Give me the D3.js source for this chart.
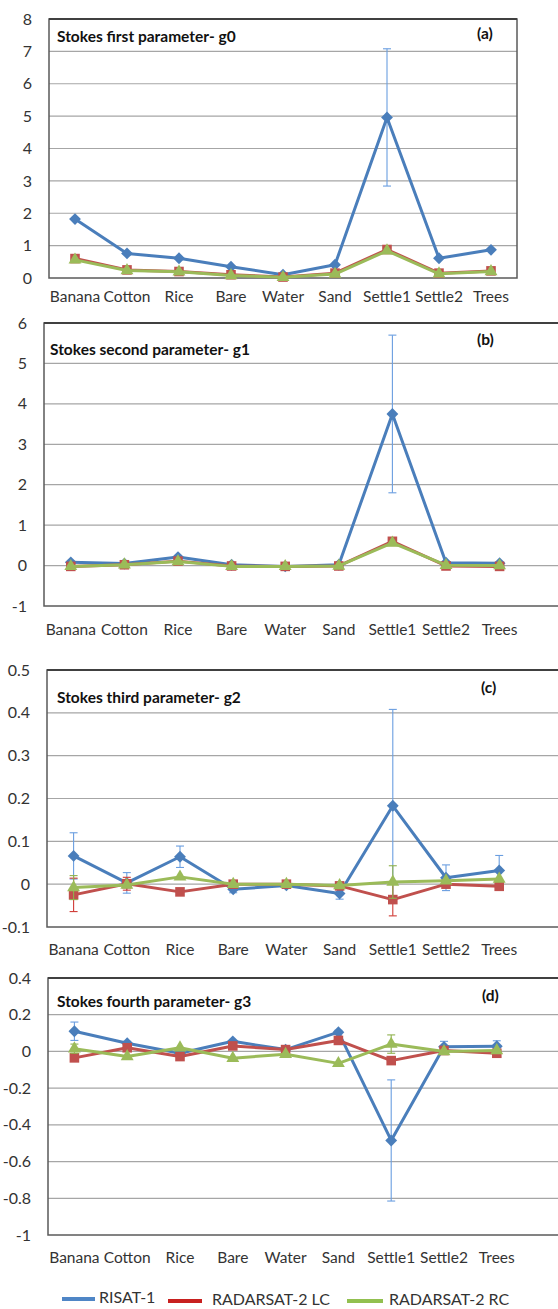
<!DOCTYPE html>
<html>
<head>
<meta charset="utf-8">
<script src="https://cdn.jsdelivr.net/npm/d3@7"></script>
<style>
  html, body { margin: 0; padding: 0; background: #fff; }
  svg { display: block; font-family: Lato, "Open Sans", sans-serif; }
</style>
</head>
<body>
<svg id="chart" width="558" height="1309"></svg>
<script>
// land-cover classes on the x axis
const categories = ['Banana', 'Cotton', 'Rice', 'Bare', 'Water', 'Sand', 'Settle1', 'Settle2', 'Trees'];
const seriesNames = ['RISAT-1', 'RADARSAT-2 LC', 'RADARSAT-2 RC'];

// g0 - first Stokes parameter
const g0Risat    = [1.82, 0.76, 0.61, 0.35, 0.10, 0.41, 4.96, 0.61, 0.87];
const g0Lc       = [0.60, 0.25, 0.20, 0.10, 0.03, 0.15, 0.88, 0.15, 0.22];
const g0Rc       = [0.56, 0.23, 0.19, 0.08, 0.02, 0.12, 0.84, 0.13, 0.20];
const g0RisatErr = [0, 0, 0, 0, 0, 0, 2.12, 0, 0];
const g0Ticks    = [0, 1, 2, 3, 4, 5, 6, 7, 8];

// g1 - second Stokes parameter
const g1Risat    = [0.08, 0.05, 0.21, 0.02, -0.02, 0.02, 3.75, 0.07, 0.06];
const g1Lc       = [-0.02, 0.02, 0.11, -0.01, -0.02, -0.01, 0.60, -0.01, -0.02];
const g1Rc       = [-0.02, 0.02, 0.10, -0.02, -0.02, -0.01, 0.56, 0.01, 0.00];
const g1RisatErr = [0, 0, 0, 0, 0, 0, 1.95, 0, 0];
const g1Ticks    = [-1, 0, 1, 2, 3, 4, 5, 6];

// g2 - third Stokes parameter
const g2Risat    = [0.066, 0.003, 0.064, -0.012, -0.003, -0.022, 0.183, 0.015, 0.032];
const g2Lc       = [-0.025, 0.001, -0.018, 0.000, 0.000, -0.004, -0.036, 0.000, -0.005];
const g2Rc       = [-0.008, -0.002, 0.017, 0.000, 0.000, -0.003, 0.005, 0.008, 0.012];
const g2RisatErr = [0.054, 0.024, 0.025, 0.008, 0.003, 0.013, 0.225, 0.030, 0.035];
const g2LcErr    = [0.039, 0.015, 0, 0, 0, 0, 0.038, 0, 0];
const g2RcErr    = [0.028, 0, 0, 0, 0, 0, 0.038, 0, 0];
const g2Ticks    = [-0.1, 0, 0.1, 0.2, 0.3, 0.4, 0.5];

// g3 - fourth Stokes parameter
const g3Risat    = [0.110, 0.045, -0.010, 0.055, 0.010, 0.105, -0.485, 0.025, 0.028];
const g3Lc       = [-0.035, 0.020, -0.028, 0.030, 0.010, 0.060, -0.050, 0.005, -0.010];
const g3Rc       = [0.015, -0.028, 0.020, -0.037, -0.015, -0.065, 0.040, 0.000, 0.005];
const g3RisatErr = [0.050, 0.010, 0, 0, 0, 0.010, 0.330, 0.030, 0.030];
const g3RcErr    = [0.025, 0, 0, 0, 0, 0, 0.050, 0, 0];
const g3Ticks    = [-1, -0.8, -0.6, -0.4, -0.2, 0, 0.2, 0.4];

const COLORS    = ['#4a7ebb', '#c0504d', '#9bbb59'];
const ERR_COLOR = ['#6a9ee0', '#d03a35', '#8fb14e'];
const LEGEND_COLORS = ['#4f86c6', '#c8201f', '#92c050'];

const panels = [
  { title: 'Stokes first parameter- g0', tag: '(a)', top: 19, bottom: 278, left: 49, step: 52, right: 517,
    ticks: g0Ticks, series: [g0Risat, g0Lc, g0Rc], errs: [g0RisatErr, null, null],
    titleXY: [57, 42], tagXY: [477, 39], labelY: 302 },
  { title: 'Stokes second parameter- g1', tag: '(b)', top: 323, bottom: 606, left: 44, step: 53.6, right: 562,
    ticks: g1Ticks, series: [g1Risat, g1Lc, g1Rc], errs: [g1RisatErr, null, null],
    titleXY: [50, 355], tagXY: [477, 345], labelY: 635 },
  { title: 'Stokes third parameter- g2', tag: '(c)', top: 670, bottom: 927, left: 47, step: 53.2, right: 562,
    ticks: g2Ticks, series: [g2Risat, g2Lc, g2Rc], errs: [g2RisatErr, g2LcErr, g2RcErr],
    titleXY: [57, 703], tagXY: [481, 693], labelY: 955 },
  { title: 'Stokes fourth parameter- g3', tag: '(d)', top: 978, bottom: 1235, left: 48, step: 52.8, right: 562,
    ticks: g3Ticks, series: [g3Risat, g3Lc, g3Rc], errs: [g3RisatErr, null, g3RcErr],
    titleXY: [57, 1007], tagXY: [482, 1001], labelY: 1263 },
];

const svg = d3.select('#chart');
const fmt = d => String(Math.round(d * 10) / 10);

const symbols = [
  d3.symbol().type(d3.symbolSquare).size(70),   // rotated -> diamond
  d3.symbol().type(d3.symbolSquare).size(92),
  d3.symbol().type(d3.symbolTriangle).size(72),
];

panels.forEach(p => {
  const g = svg.append('g');
  const x = d3.scalePoint().domain(categories)
    .range([p.left, p.left + categories.length * p.step]).padding(0.5);
  const y = d3.scaleLinear().domain(d3.extent(p.ticks)).range([p.bottom, p.top]);

  // gridlines
  g.append('g').selectAll('line')
    .data(p.ticks.slice(1, -1)).join('line')
    .attr('x1', p.left).attr('x2', p.right)
    .attr('y1', d => y(d)).attr('y2', d => y(d))
    .attr('stroke', '#a6a6a6').attr('stroke-width', 1.2);

  // plot frame
  g.append('rect')
    .attr('x', p.left).attr('y', p.top)
    .attr('width', p.right - p.left).attr('height', p.bottom - p.top)
    .attr('fill', 'none').attr('stroke', '#5a5a5a').attr('stroke-width', 1.5);
  g.append('line')
    .attr('x1', p.left).attr('x2', p.right).attr('y1', p.top).attr('y2', p.top)
    .attr('stroke', '#404040').attr('stroke-width', 2);

  // y axis labels
  const ax = g.append('g').attr('transform', `translate(${p.left},0)`)
    .call(d3.axisLeft(y).tickValues(p.ticks).tickFormat(fmt).tickSize(0).tickPadding(17));
  ax.select('.domain').remove();
  ax.selectAll('text').attr('font-size', 16).attr('fill', '#333')
    .attr('font-family', 'Lato, sans-serif');

  // x labels
  g.append('g').selectAll('text')
    .data(categories).join('text')
    .attr('x', d => x(d)).attr('y', p.labelY)
    .attr('text-anchor', 'middle').attr('font-size', 15.5).attr('fill', '#333')
    .text(d => d);

  // title + tag
  g.append('text').attr('x', p.titleXY[0]).attr('y', p.titleXY[1])
    .attr('font-size', 15.5).attr('font-weight', 'bold').attr('fill', '#111').text(p.title);
  g.append('text').attr('x', p.tagXY[0]).attr('y', p.tagXY[1])
    .attr('font-size', 15.5).attr('font-weight', 'bold').attr('fill', '#111').text(p.tag);

  const line = d3.line().x((d, i) => x(categories[i])).y(d => y(d));

  p.series.forEach((vals, si) => {
    const sg = g.append('g');
    const err = p.errs[si];
    if (err) {
      const eb = sg.append('g').attr('stroke', ERR_COLOR[si]).attr('stroke-width', 1.1);
      const items = vals.map((v, i) => ({ v, e: err[i], c: categories[i] })).filter(d => d.e > 0);
      eb.selectAll('line.v').data(items).join('line')
        .attr('x1', d => x(d.c)).attr('x2', d => x(d.c))
        .attr('y1', d => y(d.v - d.e)).attr('y2', d => y(d.v + d.e));
      eb.selectAll('line.t').data(items).join('line')
        .attr('x1', d => x(d.c) - 4).attr('x2', d => x(d.c) + 4)
        .attr('y1', d => y(d.v + d.e)).attr('y2', d => y(d.v + d.e));
      eb.selectAll('line.b').data(items).join('line')
        .attr('x1', d => x(d.c) - 4).attr('x2', d => x(d.c) + 4)
        .attr('y1', d => y(d.v - d.e)).attr('y2', d => y(d.v - d.e));
    }
    sg.append('path').datum(vals)
      .attr('d', line).attr('fill', 'none')
      .attr('stroke', COLORS[si]).attr('stroke-width', 3).attr('stroke-linejoin', 'round');
    sg.selectAll('path.m').data(vals).join('path')
      .attr('d', symbols[si])
      .attr('transform', (d, i) => `translate(${x(categories[i])},${y(d)})` + (si === 0 ? ' rotate(45)' : ''))
      .attr('fill', COLORS[si]);
  });
});

// legend
const legendX = [[62, 95, 99], [168, 202, 212], [347, 383, 389]];
const legendY = [1299, 1301, 1301];
const lg = svg.append('g');
seriesNames.forEach((name, i) => {
  lg.append('line')
    .attr('x1', legendX[i][0]).attr('x2', legendX[i][1])
    .attr('y1', legendY[i]).attr('y2', legendY[i])
    .attr('stroke', LEGEND_COLORS[i]).attr('stroke-width', 4);
  lg.append('text')
    .attr('x', legendX[i][2]).attr('y', legendY[i] + 4)
    .attr('font-size', 16).attr('fill', '#333').text(name);
});
</script>
</body>
</html>
